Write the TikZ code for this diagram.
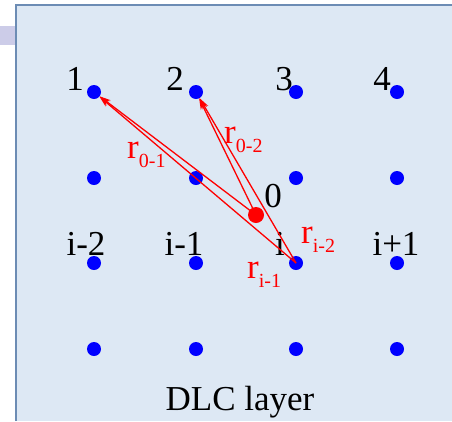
\documentclass[tikz,border=0pt]{standalone}
\usepackage{fontspec}
\setmainfont{Liberation Serif}
\usepackage{tikz}
\usetikzlibrary{arrows.meta}
\usepackage{xcolor}
\definecolor{panelfill}{RGB}{221,232,244}
\definecolor{panelline}{RGB}{108,140,180}
\definecolor{tabfill}{RGB}{204,204,232}
\tikzset{
  site/.style={circle, fill=blue, inner sep=0pt, minimum size=14pt},
  lbl/.style={anchor=base, inner sep=0pt, font=\fontsize{35}{40}\selectfont},
  rlbl/.style={anchor=base west, inner sep=0pt, text=red, font=\fontsize{35}{40}\selectfont},
  vec/.style={red, line width=1.3pt, -{Stealth[length=11pt, width=7pt]}}
}
\newcommand{\rsub}[1]{r\raisebox{-9pt}{\fontsize{20}{24}\selectfont #1}}

\begin{document}
\begin{tikzpicture}[x=1pt, y=-1pt]
    \useasboundingbox (0,0) rectangle (452,421);
    \fill[tabfill] (0,26) rectangle (16,45);
    \fill[panelfill] (16,5) rectangle (452,421);
    \draw[panelline, line width=2pt] (16,421) -- (16,5) -- (452,5);
    % site labels
    \node[lbl] (n1) at (75,90) {1};
    \node[lbl] (n2) at (175,90) {2};
    \node[lbl] (n3) at (284,90) {3};
    \node[lbl] (n4) at (382,90) {4};
    \node[lbl] (ni2) at (86,255) {i-2};
    \node[lbl] (ni1) at (184,255) {i-1};
    \node[lbl] (ni) at (280,255) {i};
    \node[lbl] (nip) at (396,255) {i+1};
    \node[lbl] (n0) at (273,207) {0};
    \node[lbl] (layer) at (240,410) {DLC layer};
    % lattice
    \foreach \c/\x in {1/94,2/196,3/296,4/397}
        \foreach \r/\y in {1/92,2/178,3/263,4/349}
            \node[site] (d\r\c) at (\x,\y) {};
    \node[site, fill=red, minimum size=16pt] (o) at (256,215) {};
    % distance vectors
    \draw[vec] (o.center) -- (d11);
    \draw[vec] (d33.center) -- (d11);
    \draw[vec] (o.center) -- (d12);
    \draw[vec] (d33.center) -- (d12);
    \node[rlbl] (r01) at (127,158) {\rsub{0-1}};
    \node[rlbl] (r02) at (224,143) {\rsub{0-2}};
    \node[rlbl] (ri2) at (301,243) {\rsub{i-2}};
    \node[rlbl] (ri1) at (247,278) {\rsub{i-1}};
\end{tikzpicture}
\end{document}
